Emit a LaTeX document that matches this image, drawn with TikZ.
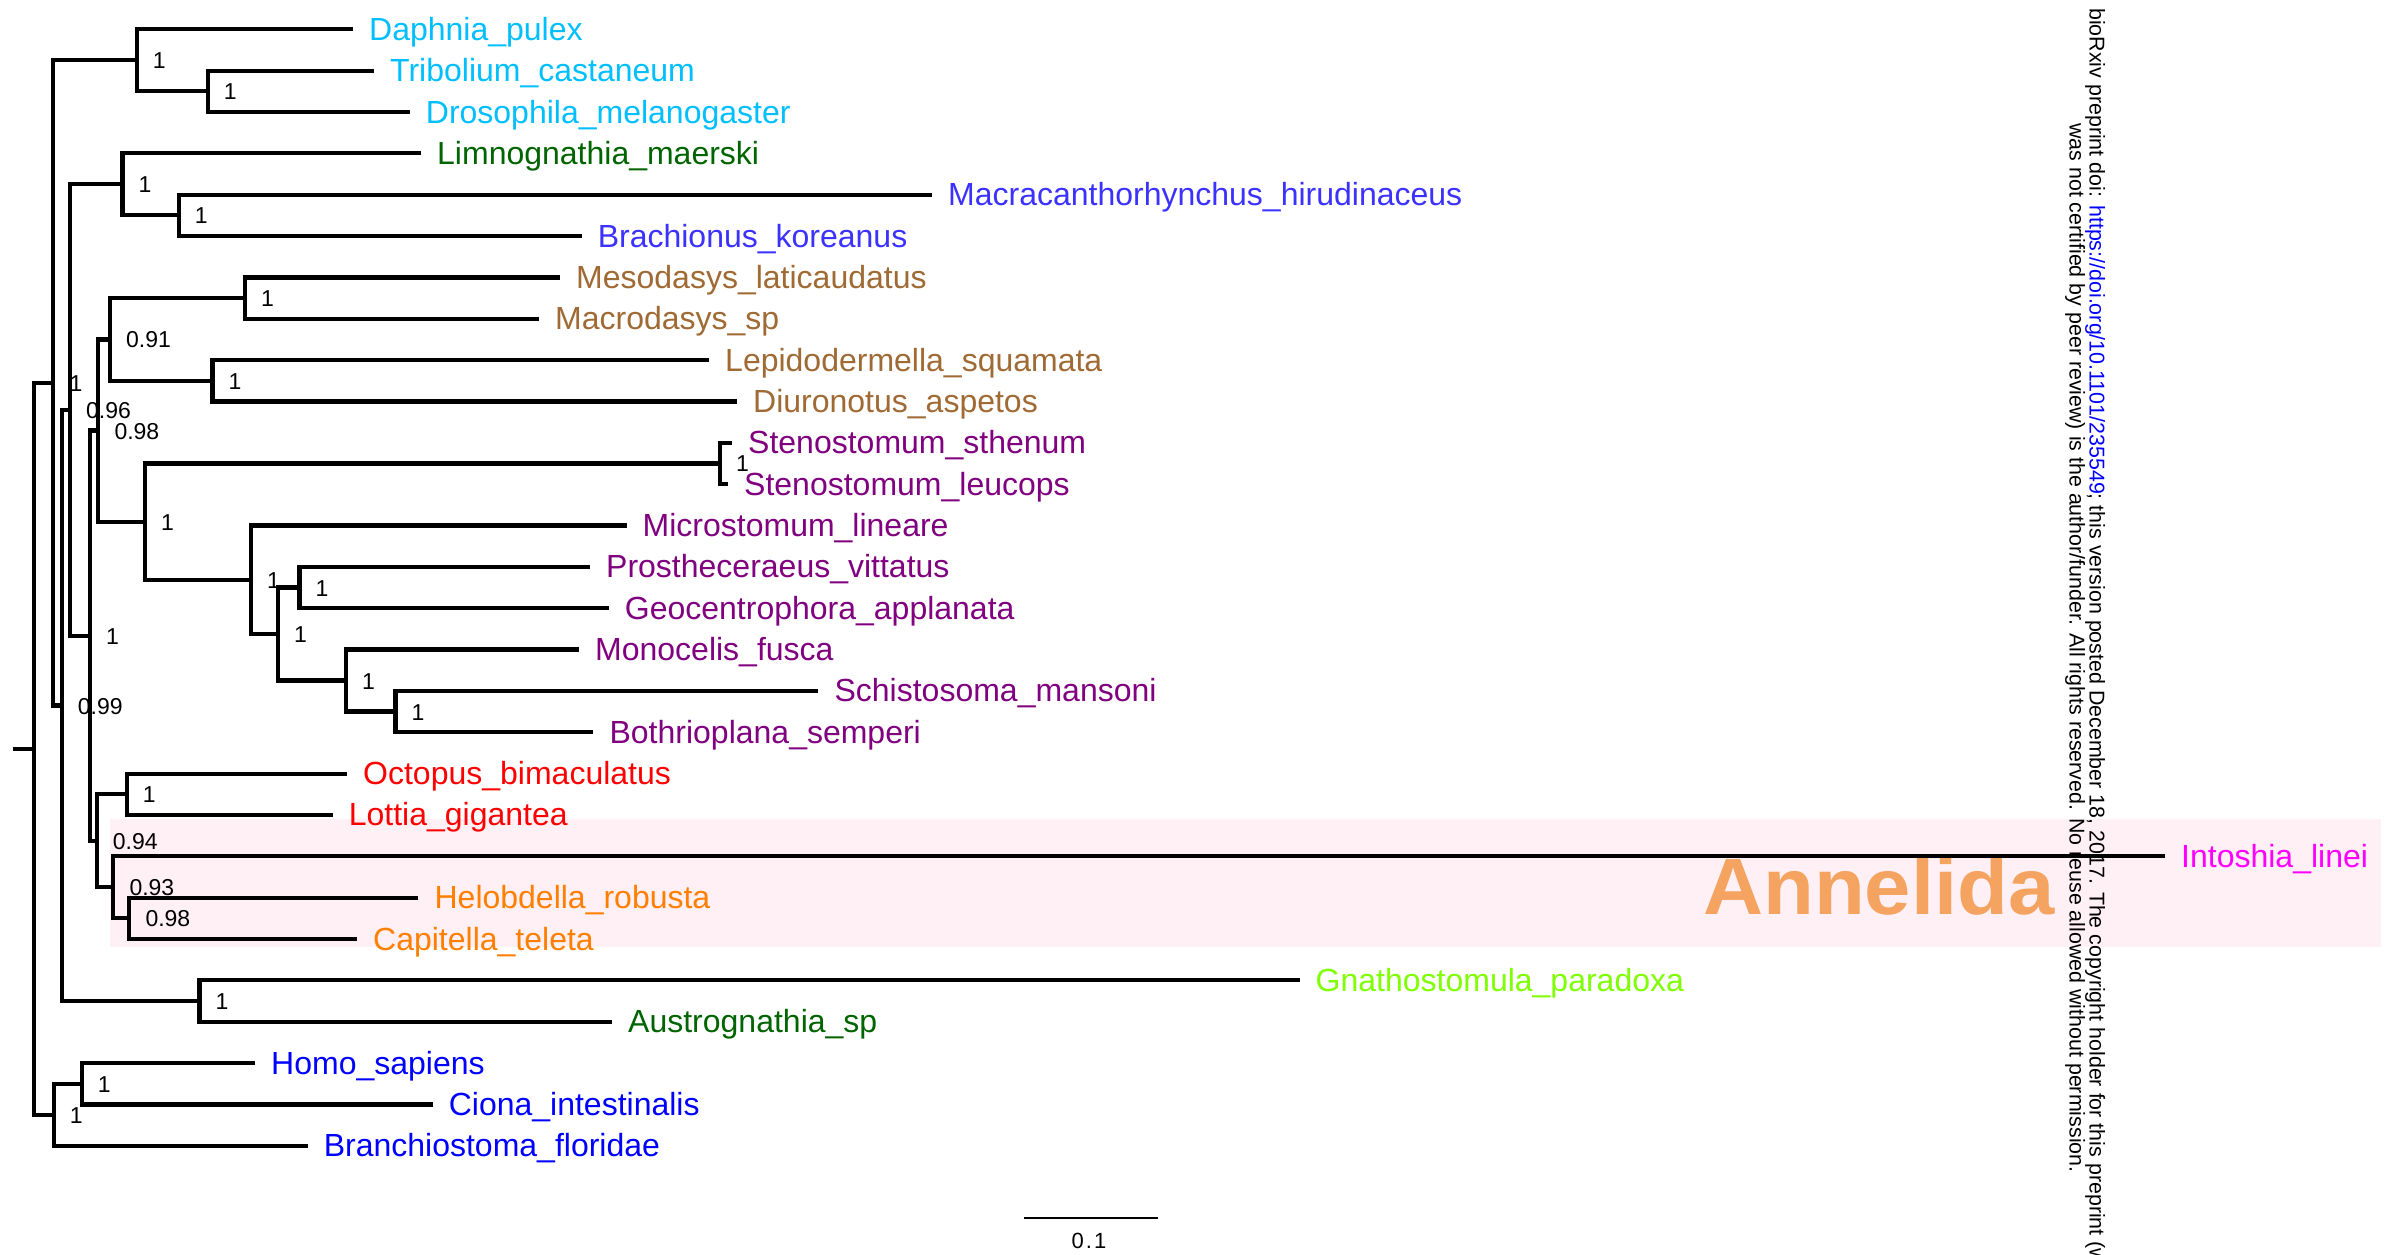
\documentclass[tikz,border=0pt]{standalone}
\usepackage{fontspec}
\setmainfont{Liberation Sans}
\usetikzlibrary{calc}
\definecolor{arth}{RGB}{0,191,255}
\definecolor{dkgreen}{RGB}{0,100,0}
\definecolor{rotblue}{RGB}{60,50,255}
\definecolor{gastro}{RGB}{160,106,52}
\definecolor{flat}{RGB}{128,0,128}
\definecolor{annel}{RGB}{255,127,0}
\definecolor{gnath}{RGB}{127,255,0}
\definecolor{pinkbg}{RGB}{255,240,245}
\definecolor{annelidatext}{RGB}{244,164,96}
\definecolor{intomag}{RGB}{255,0,255}
\definecolor{urlblue}{RGB}{0,0,255}
\definecolor{chordblue}{RGB}{0,0,255}
\definecolor{molred}{RGB}{255,0,0}
\begin{document}
\begin{tikzpicture}[x=1pt,y=-1pt,
  branch/.style={line width=4.2pt,line join=miter,line cap=butt},
  tiplab/.style={anchor=base west,inner sep=0pt,font=\fontsize{32}{38}\selectfont},
  suplab/.style={anchor=base west,inner sep=0pt,font=\fontsize{23}{27}\selectfont},
  wmark/.style={rotate=-90,inner sep=0pt,font=\fontsize{21.4}{25}\selectfont}]
\useasboundingbox[fill=white] (0,0) rectangle (2399,1254);

% Annelida highlight
\fill[pinkbg] (110,819.3) rectangle (2381,946.7);

% watermark
\begin{scope}
\clip (0,0) rectangle (2399,1254);
\node[wmark,anchor=base west] (wm1) at (2089.5,8) {bioRxiv preprint doi: \textcolor{urlblue}{https://doi.org/10.1101/235549}; this version posted December 18, 2017. The copyright holder for this preprint (which};
\node[wmark,anchor=base] (wm2) at (2069.5,648) {was not certified by peer review) is the author/funder. All rights reserved. No reuse allowed without permission.};
\end{scope}

\node[anchor=base west,inner sep=0pt,text=annelidatext,font=\fontsize{80}{90}\selectfont\bfseries] (annelida) at (1703,914.6) {\scalebox{1.04}[1]{Annelida}};

% tips
\coordinate (Daphnia) at (353,29.3);
\coordinate (Tribolium) at (374,70.65);
\coordinate (Drosophila) at (409.7,112.0);
\coordinate (Limno) at (421,153.35);
\coordinate (Macra) at (932,194.7);
\coordinate (Brach) at (581.6,236.05);
\coordinate (Meso) at (560,277.4);
\coordinate (Macrod) at (539,318.75);
\coordinate (Lepido) at (709,360.1);
\coordinate (Diuro) at (737,401.45);
\coordinate (StenS) at (732,442.8);
\coordinate (StenL) at (728,484.15);
\coordinate (Micro) at (626.5,525.5);
\coordinate (Prosth) at (590,566.85);
\coordinate (Geo) at (608.7,608.2);
\coordinate (Mono) at (579,649.55);
\coordinate (Schisto) at (818.4,690.9);
\coordinate (Bothrio) at (593.4,732.25);
\coordinate (Octopus) at (347,773.6);
\coordinate (Lottia) at (332.6,814.95);
\coordinate (Intoshia) at (2165,856.3);
\coordinate (Helob) at (418.4,897.65);
\coordinate (Capit) at (357,939.0);
\coordinate (Gnatho) at (1299.5,980.35);
\coordinate (Austro) at (612,1021.7);
\coordinate (Homo) at (255,1063.05);
\coordinate (Ciona) at (432.6,1104.4);
\coordinate (Branch) at (307.6,1145.75);

% internal nodes
\coordinate (TD) at (207.7,91.325);
\coordinate (Arth) at (136.7,60.31);
\coordinate (MB) at (178.6,215.375);
\coordinate (Rot) at (122.4,184.36);
\coordinate (MM) at (245,298.075);
\coordinate (LD) at (212.5,380.775);
\coordinate (G) at (110,339.425);
\coordinate (Sten) at (720,463.475);
\coordinate (PG) at (299.5,587.525);
\coordinate (U) at (395.4,711.575);
\coordinate (T) at (346,680.5625);
\coordinate (S) at (278,634.04);
\coordinate (R) at (251,579.77);
\coordinate (F) at (145,521.62);
\coordinate (N5) at (98.3,430.52);
\coordinate (Moll) at (126.7,794.275);
\coordinate (HC) at (129.3,918.325);
\coordinate (A) at (113.3,887.31);
\coordinate (M) at (96.7,840.79);
\coordinate (N4) at (90,635.66);
\coordinate (N3) at (70,410.01);
\coordinate (Gn) at (199.5,1001.03);
\coordinate (N2) at (61.7,705.52);
\coordinate (N1) at (53.3,382.92);
\coordinate (HCi) at (81.6,1083.73);
\coordinate (Ch) at (53.6,1114.74);
\coordinate (Root) at (33.7,748.83);
\coordinate (RootStub) at (12.7,748.83);

% branches
\draw[branch] (Tribolium) -| (TD) |- (Drosophila);
\draw[branch] (Daphnia) -| (Arth) |- (TD);
\draw[branch] (Macra) -| (MB) |- (Brach);
\draw[branch] (Limno) -| (Rot) |- (MB);
\draw[branch] (Meso) -| (MM) |- (Macrod);
\draw[branch] (Lepido) -| (LD) |- (Diuro);
\draw[branch] (MM) -| (G) |- (LD);
\draw[branch] (StenS) -| (Sten) |- (StenL);
\draw[branch] (Prosth) -| (PG) |- (Geo);
\draw[branch] (Schisto) -| (U) |- (Bothrio);
\draw[branch] (Mono) -| (T) |- (U);
\draw[branch] (PG) -| (S) |- (T);
\draw[branch] (Micro) -| (R) |- (S);
\draw[branch] (Sten) -| (F) |- (R);
\draw[branch] (G) -| (N5) |- (F);
\draw[branch] (Octopus) -| (Moll) |- (Lottia);
\draw[branch] (Helob) -| (HC) |- (Capit);
\draw[branch] (Intoshia) -| (A) |- (HC);
\draw[branch] (Moll) -| (M) |- (A);
\draw[branch] (N5) -| (N4) |- (M);
\draw[branch] (Rot) -| (N3) |- (N4);
\draw[branch] (Gnatho) -| (Gn) |- (Austro);
\draw[branch] (N3) -| (N2) |- (Gn);
\draw[branch] (Arth) -| (N1) |- (N2);
\draw[branch] (Homo) -| (HCi) |- (Ciona);
\draw[branch] (HCi) -| (Ch) |- (Branch);
\draw[branch] (N1) -| (Root) |- (Ch);
\draw[branch] (RootStub) -- (Root);

% support values
\foreach \n/\v in {TD/1,Arth/1,MB/1,Rot/1,MM/1,LD/1,G/0.91,Sten/1,PG/1,U/1,T/1,S/1,R/1,F/1,N5/0.98,Moll/1,HC/0.98,A/0.93,M/0.94,N4/1,N3/0.96,Gn/1,N2/0.99,N1/1,HCi/1,Ch/1}
  \node[suplab] (s\n) at ([xshift=16pt,yshift=-8.5pt]\n) {\v};

% tip labels
\foreach \n/\c/\t in {Daphnia/arth/Daphnia\_pulex,
  Tribolium/arth/Tribolium\_castaneum,
  Drosophila/arth/Drosophila\_melanogaster,
  Limno/dkgreen/Limnognathia\_maerski,
  Macra/rotblue/Macracanthorhynchus\_hirudinaceus,
  Brach/rotblue/Brachionus\_koreanus,
  Meso/gastro/Mesodasys\_laticaudatus,
  Macrod/gastro/Macrodasys\_sp,
  Lepido/gastro/Lepidodermella\_squamata,
  Diuro/gastro/Diuronotus\_aspetos,
  StenS/flat/Stenostomum\_sthenum,
  StenL/flat/Stenostomum\_leucops,
  Micro/flat/Microstomum\_lineare,
  Prosth/flat/Prostheceraeus\_vittatus,
  Geo/flat/Geocentrophora\_applanata,
  Mono/flat/Monocelis\_fusca,
  Schisto/flat/Schistosoma\_mansoni,
  Bothrio/flat/Bothrioplana\_semperi,
  Octopus/molred/Octopus\_bimaculatus,
  Lottia/molred/Lottia\_gigantea,
  Intoshia/intomag/Intoshia\_linei,
  Helob/annel/Helobdella\_robusta,
  Capit/annel/Capitella\_teleta,
  Gnatho/gnath/Gnathostomula\_paradoxa,
  Austro/dkgreen/Austrognathia\_sp,
  Homo/chordblue/Homo\_sapiens,
  Ciona/chordblue/Ciona\_intestinalis,
  Branch/chordblue/Branchiostoma\_floridae}
  \node[tiplab,text=\c] (l\n) at ([xshift=16pt,yshift=-11pt]\n) {\t};

% scale bar
\coordinate (sb1) at (1024,1218.3);
\coordinate (sb2) at (1157.7,1218.3);
\draw[line width=2pt] (sb1) -- (sb2);
\node[anchor=base,inner sep=0pt,font=\fontsize{22}{26}\selectfont] (sblab) at (1089,1248) {0\kern2pt.\kern2pt1};
\end{tikzpicture}
\end{document}
